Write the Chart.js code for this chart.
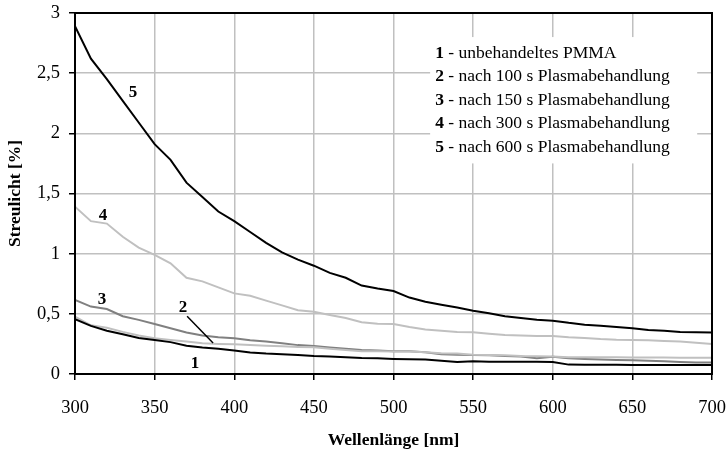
<!DOCTYPE html>
<html>
<head>
<meta charset="utf-8">
<script src="https://cdn.jsdelivr.net/npm/chart.js@4"></script>
<style>
  body { margin: 0; background: #fff; }
  #wrap { width: 727px; height: 452px; }
</style>
</head>
<body>
<div id="wrap"><canvas id="myChart" width="727" height="452"></canvas></div>
<script>
// Wellenlänge [nm]
var wavelengths = [300, 310, 320, 330, 340, 350, 360, 370, 380, 390, 400, 410, 420, 430, 440, 450, 460, 470, 480, 490, 500,
    510, 520, 530, 540, 550, 560, 570, 580, 590, 600, 610, 620, 630, 640, 650, 660, 670, 680, 690, 700];

// Streulicht [%]
var pmma = [0.455, 0.40, 0.36, 0.33, 0.30, 0.283, 0.265, 0.235, 0.22, 0.21, 0.195, 0.178, 0.17, 0.165, 0.158, 0.15, 0.145, 0.14, 0.132, 0.13, 0.125,
    0.122, 0.12, 0.11, 0.10, 0.105, 0.102, 0.102, 0.102, 0.102, 0.10, 0.078, 0.077, 0.076, 0.076, 0.075, 0.075, 0.075, 0.075, 0.075, 0.075];
var p100 = [0.476, 0.405, 0.385, 0.35, 0.32, 0.297, 0.283, 0.27, 0.255, 0.25, 0.247, 0.24, 0.235, 0.23, 0.225, 0.222, 0.21, 0.20, 0.19, 0.19, 0.188,
    0.186, 0.18, 0.172, 0.17, 0.16, 0.158, 0.155, 0.15, 0.148, 0.145, 0.14, 0.14, 0.14, 0.14, 0.138, 0.138, 0.137, 0.136, 0.135, 0.135];
var p150 = [0.615, 0.56, 0.54, 0.48, 0.45, 0.416, 0.38, 0.345, 0.32, 0.305, 0.297, 0.28, 0.27, 0.255, 0.24, 0.232, 0.22, 0.21, 0.20, 0.195, 0.19,
    0.19, 0.18, 0.165, 0.16, 0.158, 0.155, 0.15, 0.145, 0.13, 0.143, 0.13, 0.125, 0.12, 0.117, 0.115, 0.11, 0.105, 0.10, 0.095, 0.095];
var p300 = [1.39, 1.27, 1.25, 1.14, 1.05, 0.99, 0.92, 0.80, 0.77, 0.72, 0.67, 0.65, 0.61, 0.57, 0.53, 0.518, 0.49, 0.465, 0.43, 0.418, 0.416,
    0.39, 0.37, 0.36, 0.35, 0.347, 0.335, 0.325, 0.32, 0.316, 0.316, 0.305, 0.30, 0.29, 0.285, 0.283, 0.28, 0.275, 0.27, 0.26, 0.25];
var p600 = [2.89, 2.62, 2.45, 2.27, 2.09, 1.91, 1.78, 1.59, 1.47, 1.35, 1.27, 1.18, 1.09, 1.01, 0.95, 0.90, 0.84, 0.80, 0.735, 0.71, 0.69,
    0.635, 0.60, 0.575, 0.552, 0.525, 0.505, 0.48, 0.465, 0.45, 0.443, 0.425, 0.41, 0.40, 0.39, 0.38, 0.365, 0.36, 0.35, 0.347, 0.345];

var legendNums = ['1', '2', '3', '4', '5'];
var legendTexts = [' - unbehandeltes PMMA', ' - nach 100 s Plasmabehandlung', ' - nach 150 s Plasmabehandlung',
    ' - nach 300 s Plasmabehandlung', ' - nach 600 s Plasmabehandlung'];

var serif = '"Liberation Serif", "Times New Roman", serif';

function pts(ys) {
    return wavelengths.map(function(x, i) { return {x: x, y: ys[i]}; });
}

var annotate = {
    id: 'annotate',
    afterDraw: function(chart) {
        var ctx = chart.ctx;
        var xs = chart.scales.x, ys = chart.scales.y;
        var a = chart.chartArea;
        ctx.save();
        // frame
        ctx.strokeStyle = '#000';
        ctx.lineWidth = 2;
        ctx.strokeRect(a.left, a.top, a.right - a.left, a.bottom - a.top);

        // curve numbers
        ctx.fillStyle = '#000';
        ctx.font = 'bold 17px ' + serif;
        ctx.textAlign = 'center';
        ctx.textBaseline = 'middle';
        var marks = [['5', 336.4, 2.34], ['4', 317.6, 1.32], ['3', 317, 0.615], ['2', 367.8, 0.55], ['1', 375.4, 0.09]];
        marks.forEach(function(m) {
            ctx.fillText(m[0], xs.getPixelForValue(m[1]), ys.getPixelForValue(m[2]));
        });
        ctx.lineWidth = 1.5;
        ctx.beginPath();
        ctx.moveTo(xs.getPixelForValue(370.4), ys.getPixelForValue(0.48));
        ctx.lineTo(xs.getPixelForValue(386.7), ys.getPixelForValue(0.258));
        ctx.stroke();

        // legend box
        var bx = xs.getPixelForValue(523), by = ys.getPixelForValue(2.8);
        var bw = xs.getPixelForValue(690.7) - bx, bh = ys.getPixelForValue(1.75) - by;
        ctx.fillStyle = '#fff';
        ctx.fillRect(bx, by, bw, bh);
        ctx.textAlign = 'left';
        ctx.fillStyle = '#000';
        for (var i = 0; i < legendNums.length; i++) {
            var ty = by + 16 + i * 23.6;
            var tx = bx + 5;
            ctx.font = 'bold 17.5px ' + serif;
            ctx.fillText(legendNums[i], tx, ty);
            var w = ctx.measureText(legendNums[i]).width;
            ctx.font = '17.5px ' + serif;
            ctx.fillText(legendTexts[i], tx + w, ty);
        }
        ctx.restore();
    }
};

var ctx = document.getElementById('myChart');
var myChart = new Chart(ctx, {
    type: 'line',
    data: {
        datasets: [
            {label: '1', data: pts(pmma), borderColor: '#000000', borderWidth: 2},
            {label: '2', data: pts(p100), borderColor: '#c0c0c0', borderWidth: 2},
            {label: '3', data: pts(p150), borderColor: '#808080', borderWidth: 2},
            {label: '4', data: pts(p300), borderColor: '#c0c0c0', borderWidth: 2},
            {label: '5', data: pts(p600), borderColor: '#000000', borderWidth: 2}
        ]
    },
    options: {
        responsive: false,
        animation: false,
        devicePixelRatio: 1,
        elements: {point: {radius: 0}, line: {tension: 0}},
        layout: {padding: {left: 0, top: 13, right: 15, bottom: 0}},
        plugins: {legend: {display: false}, tooltip: {enabled: false}},
        scales: {
            x: {
                type: 'linear',
                min: 300,
                max: 700,
                afterFit: function(s) { s.height = 78; s.paddingLeft = 0; s.paddingRight = 0; },
                ticks: {stepSize: 50, color: '#000', padding: 17, maxRotation: 0, font: {family: serif, size: 18.5}},
                grid: {color: '#c0c0c0', lineWidth: 1.5, tickColor: '#000', tickLength: 6},
                border: {color: '#000', width: 2},
                title: {display: true, text: 'Wellenlänge [nm]', color: '#000', padding: {top: 0, bottom: 1},
                    font: {family: serif, size: 17.5, weight: 'bold'}}
            },
            y: {
                min: 0,
                max: 3,
                afterFit: function(s) { s.width = 75; s.paddingTop = 0; s.paddingBottom = 0; },
                ticks: {stepSize: 0.5, color: '#000', padding: 9, font: {family: serif, size: 18.5},
                    callback: function(v) { return String(v).replace('.', ','); }},
                grid: {color: '#c0c0c0', lineWidth: 1.5, tickColor: '#000', tickLength: 6},
                border: {color: '#000', width: 2},
                title: {display: true, text: 'Streulicht [%]', color: '#000', padding: {top: 5, bottom: 0},
                    font: {family: serif, size: 17.5, weight: 'bold'}}
            }
        }
    },
    plugins: [annotate]
});
</script>
</body>
</html>
